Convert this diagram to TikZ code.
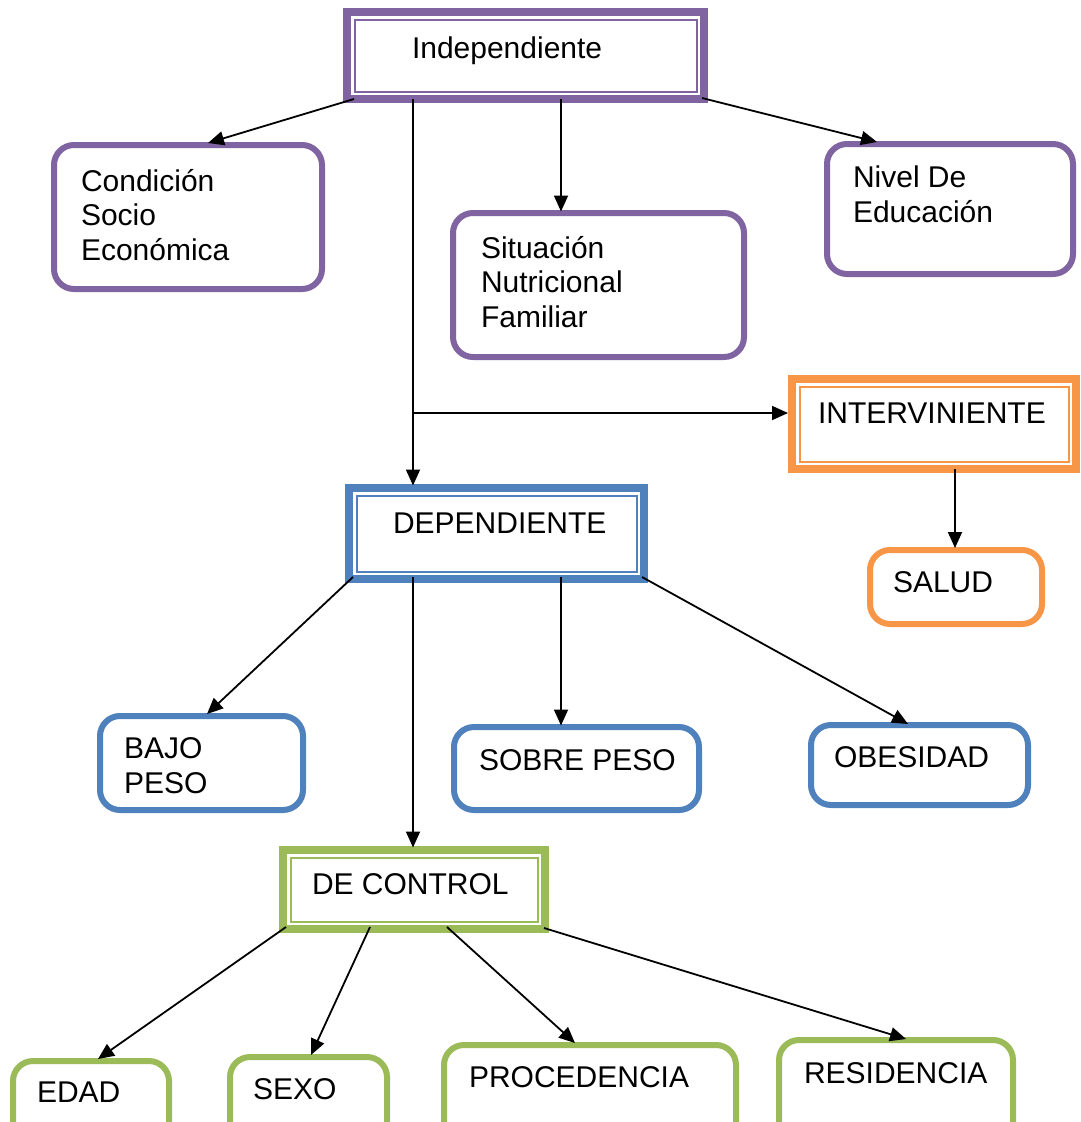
\documentclass[tikz,border=0pt]{standalone}
\usepackage{fontspec}
\setmainfont{Liberation Sans}
\usetikzlibrary{arrows.meta,calc}
\definecolor{cpur}{HTML}{8064A2}
\definecolor{cblu}{HTML}{4F81BD}
\definecolor{cora}{HTML}{F79646}
\definecolor{cgre}{HTML}{9BBB59}
\tikzset{
  rbox/.style={draw, line width=6pt, rounded corners=20pt, inner sep=0pt, outer sep=0pt, fill=white, anchor=north west},
  dbox/.style={draw, line width=8pt, inner sep=0pt, outer sep=0pt, fill=white, anchor=north west},
  txt/.style={anchor=base west, inner sep=0pt, outer sep=0pt, align=left, font=\fontsize{30}{34.5}\selectfont},
  arr/.style={line width=1.8pt, -{Triangle[length=16pt,width=14pt]}},
}
\newcommand\RBox[6]{\node[rbox,draw=#6,minimum width={#4-#2-6},minimum height={#5-#3-6}] (#1) at ({#2+3},{#3+3}) {};}
\newcommand\DBox[6]{\node[dbox,draw=#6,minimum width={#4-#2-8},minimum height={#5-#3-8}] (#1) at ({#2+4},{#3+4}) {};
  \draw[#6, line width=2pt] ($(#1.north west)+(7.5,7.5)$) rectangle ($(#1.south east)+(-7.5,-7.5)$);}
\begin{document}
\begin{tikzpicture}[x=1pt,y=-1pt]
\useasboundingbox (0,0) rectangle (1081,1122);
\fill[white] (0,0) rectangle (1081,1122);
\clip (0,0) rectangle (1081,1122);

% boxes
\DBox{ind}{343}{8}{708}{103}{cpur}
\RBox{cond}{51}{142}{325}{292}{cpur}
\RBox{sit}{450}{210}{747}{360}{cpur}
\RBox{niv}{824}{141}{1076}{277}{cpur}
\DBox{interv}{788}{375}{1080}{473}{cora}
\RBox{salud}{867}{547}{1045}{627}{cora}
\DBox{dep}{345}{484}{648}{583}{cblu}
\RBox{bajo}{97}{713}{306}{813}{cblu}
\RBox{sobre}{451}{724}{702}{813}{cblu}
\RBox{obes}{808}{722}{1031}{808}{cblu}
\DBox{ctrl}{279}{846}{549}{933}{cgre}
\RBox{edad}{10}{1058}{172}{1145}{cgre}
\RBox{sexo}{227}{1054}{390}{1145}{cgre}
\RBox{proc}{441}{1042}{739}{1145}{cgre}
\RBox{resid}{776}{1037}{1016}{1145}{cgre}

% texts (base west = baseline of the last line)
\node[txt] (indT) at (412,58) {Independiente};
\node[txt] (condT) at (81,260) {Condición\\Socio\\Económica};
\node[txt] (sitT) at (481,327) {Situación\\Nutricional\\Familiar};
\node[txt] (nivT) at (853,222) {Nivel De\\Educación};
\node[txt] (intervT) at (818,423) {INTERVINIENTE};
\node[txt] (saludT) at (893,592) {SALUD};
\node[txt] (depT) at (393,533) {DEPENDIENTE};
\node[txt] (bajoT) at (124,793) {BAJO\\PESO};
\node[txt] (sobreT) at (479,770) {SOBRE PESO};
\node[txt] (obesT) at (834,767) {OBESIDAD};
\node[txt] (ctrlT) at (312,894) {DE CONTROL};
\node[txt] (edadT) at (37,1102) {EDAD};
\node[txt] (sexoT) at (253,1099) {SEXO};
\node[txt] (procT) at (469,1087) {PROCEDENCIA};
\node[txt] (residT) at (804,1083) {RESIDENCIA};

% connectors from Independiente
\coordinate (istart) at ($(ind.south west)+(66,0)$);
\coordinate (itip) at ($(interv.west)+(-4,-11)$);
\draw[arr] ($(ind.south west)+(7,0)$) -- ($(cond.north)+(20,-2)$);
\draw[arr] (istart) -- ($(dep.north west)+(64,-2.5)$);
\draw[arr] (istart |- itip) -- (itip);
\draw[arr] ($(ind.south west)+(214,0)$) -- ($(sit.north)+(-37.5,-1.5)$);
\draw[arr] ($(ind.south east)+(-2,-1)$) -- ($(niv.north)+(-73,-2)$);
\draw[arr] ($(interv.south)+(21,0)$) -- ($(salud.north)+(-1,-2)$);

% connectors from Dependiente
\draw[arr] ($(dep.south west)+(4,-2)$) -- ($(bajo.north)+(5.5,-2)$);
\draw[arr] ($(dep.south west)+(64,-2)$) -- ($(ctrl.north west)+(130,-2.5)$);
\draw[arr] ($(dep.south west)+(212,-2)$) -- ($(sobre.north)+(-15.5,-1.5)$);
\draw[arr] ($(dep.south east)+(-2,-2)$) -- ($(obes.north)+(-11.5,-1)$);

% connectors from De Control
\draw[arr] ($(ctrl.south west)+(3,-2)$) -- ($(edad.north)+(7,-2)$);
\draw[arr] ($(ctrl.south west)+(87,-2)$) -- ($(sexo.north)+(2.5,-2)$);
\draw[arr] ($(ctrl.south west)+(164,-2)$) -- ($(proc.north)+(-15,-2)$);
\draw[arr] ($(ctrl.south east)+(-1,-1)$) -- ($(resid.north)+(10,-1)$);
\end{tikzpicture}
\end{document}
